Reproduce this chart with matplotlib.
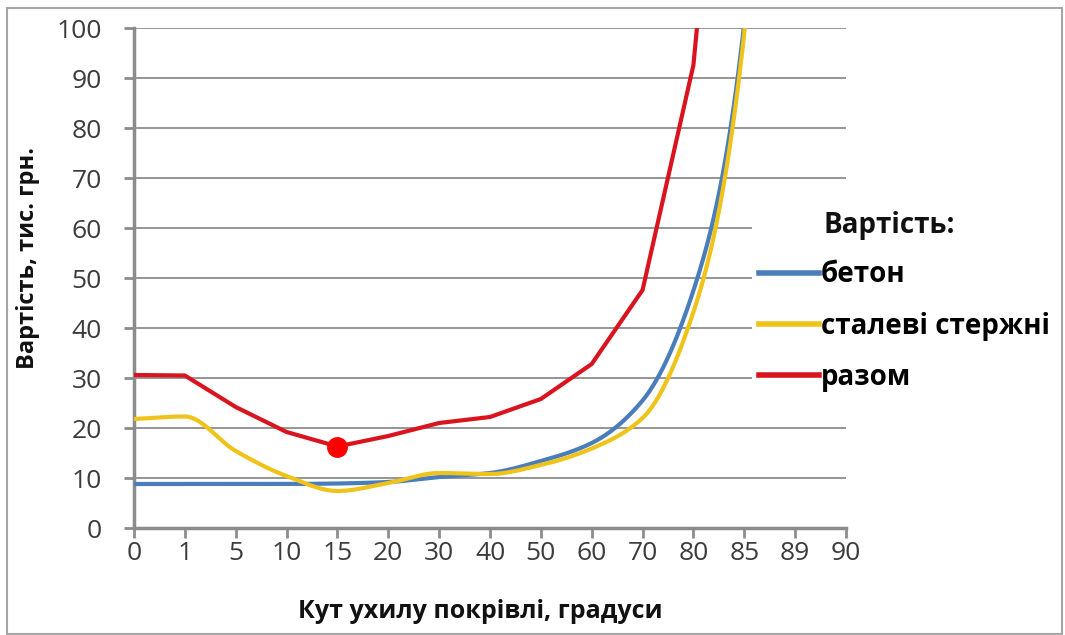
import numpy as np
import matplotlib
matplotlib.use("Agg")
import matplotlib.pyplot as plt
from matplotlib.lines import Line2D
from matplotlib.patches import Rectangle

plt.rcParams["font.family"] = ["Open Sans", "DejaVu Sans"]

# Roof slope angles (categorical axis) and costs, thousand UAH
angles = ["0", "1", "5", "10", "15", "20", "30", "40", "50", "60", "70", "80", "85", "89", "90"]
beton = [8.8, 8.8, 8.8, 8.8, 8.9, 9.2, 10.2, 11.0, 13.4, 17.0, 25.5, 47.5, 101.0, 400.0, 800.0]
stal = [21.8, 22.3, 15.4, 10.4, 7.4, 9.0, 11.0, 10.8, 12.6, 15.9, 22.0, 43.2, 99.0, 380.0, 760.0]
razom = [30.6, 30.5, 24.2, 19.2, 16.3, 18.4, 21.0, 22.2, 25.8, 32.8, 47.6, 92.6, 200.0, 780.0, 1560.0]
optimum = "15"

legend_title = "Вартість:"
series_labels = ["бетон", "сталеві стержні", "разом"]
xlabel = "Кут ухилу покрівлі, градуси"
ylabel = "Вартість, тис. грн."

C_BLUE = "#4A7EBB"
C_YELLOW = "#F0C31A"
C_RED = "#DA141E"
C_AXIS = "#8C8C8C"


def pchip(x, y, xs):
    """Monotone piecewise cubic Hermite interpolation (Fritsch-Carlson)."""
    x = np.asarray(x, float)
    y = np.asarray(y, float)
    h = np.diff(x)
    delta = np.diff(y) / h
    n = len(x)
    d = np.zeros(n)
    for k in range(1, n - 1):
        if delta[k - 1] * delta[k] > 0:
            w1 = 2 * h[k] + h[k - 1]
            w2 = h[k] + 2 * h[k - 1]
            d[k] = (w1 + w2) / (w1 / delta[k - 1] + w2 / delta[k])
    d[0] = delta[0]
    d[-1] = delta[-1]
    idx = np.clip(np.searchsorted(x, xs) - 1, 0, n - 2)
    t = (xs - x[idx]) / h[idx]
    h00 = 2 * t**3 - 3 * t**2 + 1
    h10 = t**3 - 2 * t**2 + t
    h01 = -2 * t**3 + 3 * t**2
    h11 = t**3 - t**2
    return (h00 * y[idx] + h10 * h[idx] * d[idx]
            + h01 * y[idx + 1] + h11 * h[idx] * d[idx + 1])


W, H = 1065, 635
fig = plt.figure(figsize=(W / 100, H / 100), dpi=100)
ax = fig.add_axes([134 / W, 1 - 528 / H, (846 - 134) / W, 500 / H])

x = np.arange(len(angles))
xs = np.linspace(0, len(angles) - 1, 2000)

ax.plot(xs, pchip(x, beton, xs), color=C_BLUE, lw=3, zorder=3)
ax.plot(xs, pchip(x, stal, xs), color=C_YELLOW, lw=3, zorder=3)
ax.plot(x, razom, color=C_RED, lw=3, zorder=4)
i_opt = angles.index(optimum)
ax.plot(x[i_opt], razom[i_opt], "o", ms=14, color="#FF0000", zorder=5)

ax.set_xlim(0, len(angles) - 1)
ax.set_ylim(0, 100)
ax.set_xticks(x, angles)
ax.set_yticks(np.arange(0, 101, 10))

ax.set_axisbelow(True)
ax.grid(axis="y", color=C_AXIS, lw=1.3)
for s in ("top", "right"):
    ax.spines[s].set_visible(False)
for s in ("left", "bottom"):
    ax.spines[s].set_color(C_AXIS)
    ax.spines[s].set_linewidth(2.5)
ax.tick_params(axis="both", length=7, width=2, color=C_AXIS,
               labelsize=19, labelcolor="#3C3C3C")
ax.tick_params(axis="y", pad=16)
ax.tick_params(axis="x", pad=2)

# white backing behind the legend hides the grid lines there
ax.add_patch(Rectangle((752 / W, 1 - 410 / H), 110 / W, 210 / H,
                       transform=fig.transFigure, facecolor="white",
                       edgecolor="none", zorder=1.5, clip_on=False))

handles = [Line2D([], [], color=c, lw=4) for c in (C_BLUE, C_YELLOW, C_RED)]
leg = fig.legend(handles, series_labels,
                 loc="center left", bbox_to_anchor=(759 / W, 1 - 326 / H),
                 frameon=False, handlelength=2.15, handletextpad=0.08,
                 labelspacing=0.8, borderaxespad=0, borderpad=0,
                 prop={"weight": "bold", "size": 20})
fig.text(823 / W, 1 - 225 / H, legend_title, ha="left", va="center",
         fontsize=20, fontweight="bold", color="#111111")

fig.text(480 / W, 1 - 612 / H, xlabel, ha="center", va="center",
         fontsize=18, fontweight="bold", color="#111111")
fig.text(28 / W, 1 - 258 / H, ylabel, ha="center", va="center",
         rotation=90, fontsize=17, fontweight="bold", color="#111111")

# outer chart border
fig.add_artist(Rectangle((7 / W, 1 / H), (1062 - 7) / W, (627 - 1) / H,
                         transform=fig.transFigure, facecolor="none",
                         edgecolor="#A6A6A6", lw=1.5))

fig.savefig("out.png", dpi=100)
